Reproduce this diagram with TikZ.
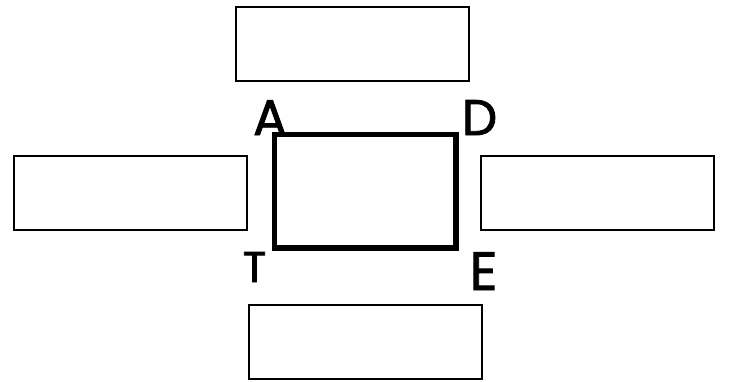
\documentclass[tikz,border=0pt]{standalone}
\usepackage{fontspec}
\setmainfont{Poppins}
\newfontfamily\lab{Poppins}[FakeBold=1.7]
\usetikzlibrary{positioning}
\tikzset{blank/.style={draw,line width=2pt,minimum width=233pt,minimum height=74pt,inner sep=0pt},
  letter/.style={anchor=base,inner sep=0pt}}
\begin{document}
\begin{tikzpicture}[x=1pt,y=-1pt]
\useasboundingbox (0,0) rectangle (730,381);
\node[blank] (top) at (352.75,44.25) {};
\node[blank] (left) at (130.75,193) {};
\node[blank] (right) at (597.75,193.25) {};
\node[blank] (bottom) at (365,342) {};
\node[draw,line width=5.5pt,minimum width=181.5pt,minimum height=113.5pt,inner sep=0pt] (frame) at (365.25,191.25) {};

\node[letter,font=\lab\fontsize{50}{50}\selectfont] (A) at (270,135) {A};
\node[letter,font=\lab\fontsize{50}{50}\selectfont] (D) at (479.5,135) {D};
\node[letter,font=\lab\fontsize{43}{43}\selectfont] (T) at (254.5,282) {T};
\node[letter,font=\lab\fontsize{54}{54}\selectfont] (E) at (483.5,290) {E};
\end{tikzpicture}
\end{document}
